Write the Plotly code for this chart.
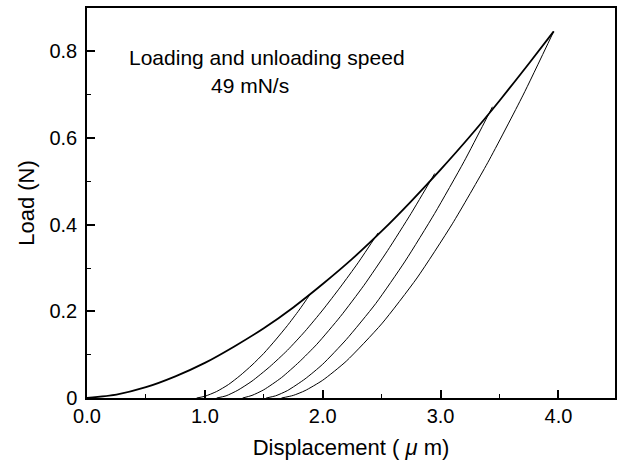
import plotly.graph_objects as go

# Loading curve (displacement in um, load in N)
load_x = [0.0, 0.25, 0.5, 0.75, 1.0, 1.25, 1.5, 1.75, 2.0, 2.25, 2.5, 2.75, 3.0, 3.25, 3.5, 3.75, 3.96]
load_y = [0.0, 0.008, 0.025, 0.050, 0.081, 0.119, 0.161, 0.209, 0.263, 0.321, 0.385, 0.454, 0.527, 0.604, 0.686, 0.772, 0.846]

# Unloading curves (from each peak down to residual depth)
u1_x = [3.96, 3.7, 3.4, 3.1, 2.8, 2.5, 2.2, 2.0, 1.85, 1.75, 1.65]
u1_y = [0.846, 0.699, 0.543, 0.402, 0.277, 0.171, 0.085, 0.041, 0.017, 0.006, 0.0]

u2_x = [3.44, 3.2, 2.95, 2.7, 2.45, 2.2, 2.0, 1.85, 1.7, 1.6, 1.52]
u2_y = [0.672, 0.546, 0.426, 0.316, 0.218, 0.135, 0.078, 0.044, 0.017, 0.005, 0.0]

u3_x = [2.95, 2.75, 2.55, 2.35, 2.15, 1.95, 1.8, 1.65, 1.5, 1.4, 1.32]
u3_y = [0.518, 0.426, 0.340, 0.260, 0.188, 0.124, 0.083, 0.047, 0.019, 0.006, 0.0]

u4_x = [2.47, 2.3, 2.15, 2.0, 1.85, 1.7, 1.55, 1.4, 1.28, 1.18, 1.10]
u4_y = [0.381, 0.312, 0.256, 0.203, 0.154, 0.110, 0.072, 0.039, 0.018, 0.005, 0.0]

u5_x = [1.90, 1.8, 1.7, 1.6, 1.5, 1.4, 1.3, 1.2, 1.1, 1.0, 0.93]
u5_y = [0.242, 0.203, 0.167, 0.134, 0.103, 0.076, 0.052, 0.031, 0.015, 0.004, 0.0]

x_ticks = [0, 1, 2, 3, 4]
x_ticktext = ["0.0", "1.0", "2.0", "3.0", "4.0"]
y_ticks = [0, 0.2, 0.4, 0.6, 0.8]
y_ticktext = ["0", "0.2", "0.4", "0.6", "0.8"]

FONT = "Liberation Sans, Arial, sans-serif"

fig = go.Figure()
fig.add_trace(go.Scatter(x=load_x, y=load_y, mode="lines",
                         line=dict(color="black", width=1.8, shape="spline", smoothing=0.6)))
for ux, uy in [(u1_x, u1_y), (u2_x, u2_y), (u3_x, u3_y), (u4_x, u4_y), (u5_x, u5_y)]:
    fig.add_trace(go.Scatter(x=ux, y=uy, mode="lines",
                             line=dict(color="black", width=1.0, shape="spline", smoothing=0.6)))

fig.add_annotation(x=1.526, y=0.785, xref="x", yref="y", text="Loading and unloading speed",
                   showarrow=False, font=dict(family=FONT, size=21, color="black"))
fig.add_annotation(x=1.386, y=0.722, xref="x", yref="y", text="49 mN/s",
                   showarrow=False, font=dict(family=FONT, size=21, color="black"))

fig.update_layout(
    width=621, height=462,
    margin=dict(l=87, r=4, t=8, b=64),
    paper_bgcolor="white", plot_bgcolor="white",
    showlegend=False,
    font=dict(family=FONT, size=20, color="black"),
)
fig.update_xaxes(
    range=[0, 4.48], showgrid=False, zeroline=False,
    showline=True, linecolor="black", linewidth=1.5, mirror=True,
    tickmode="array", tickvals=x_ticks, ticktext=x_ticktext,
    ticks="inside", ticklen=8, tickwidth=1.5, tickcolor="black",
    ticklabelstandoff=-1,
    minor=dict(dtick=0.5, ticks="inside", ticklen=4, tickwidth=1.2, tickcolor="black", showgrid=False),
    tickfont=dict(family=FONT, size=20, color="black"),
    title=dict(text="Displacement ( <i>μ</i> m)", font=dict(family=FONT, size=22, color="black"), standoff=14),
)
fig.update_yaxes(
    range=[0, 0.9], showgrid=False, zeroline=False,
    showline=True, linecolor="black", linewidth=1.5, mirror=True,
    tickmode="array", tickvals=y_ticks, ticktext=y_ticktext,
    ticks="inside", ticklen=8, tickwidth=1.5, tickcolor="black",
    ticklabelstandoff=4,
    minor=dict(dtick=0.1, ticks="inside", ticklen=4, tickwidth=1.2, tickcolor="black", showgrid=False),
    tickfont=dict(family=FONT, size=20, color="black"),
    title=dict(text="Load (N)", font=dict(family=FONT, size=22, color="black"), standoff=9),
)

fig.write_html("out.html")
